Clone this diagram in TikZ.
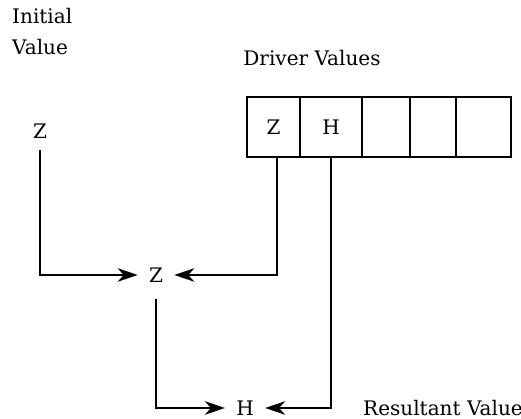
\documentclass[tikz,border=0pt]{standalone}
\usepackage{fontspec}
\setmainfont{DejaVu Serif}
\usetikzlibrary{arrows.meta,positioning}

\begin{document}
\begin{tikzpicture}[font=\fontsize{11.4}{13}\selectfont,
  cell/.style = {draw, line width=1.2pt, minimum height=1.2cm, inner sep=0pt, outer sep=0pt},
  value/.style = {inner sep=0.22cm},
  flow/.style = {line width=1.2pt, -{Stealth[length=0.4cm,width=0.27cm,inset=0.12cm]}}]
\useasboundingbox (0,0) rectangle (10.42,8.38);

\node[anchor=west] (init1) at (0.12,8.06) {Initial};
\node[anchor=west] (init2) at (0.12,7.44) {Value};
\node (drv) at (6.24,7.22) {Driver Values};

\node[cell, minimum width=1.06cm, anchor=west] (c1) at (4.94,5.84) {Z};
\node[cell, minimum width=1.24cm, right=0pt of c1] (c2) {H};
\node[cell, minimum width=0.96cm, right=0pt of c2] (c3) {};
\node[cell, minimum width=0.92cm, right=0pt of c3] (c4) {};
\node[cell, minimum width=1.10cm, right=0pt of c4] (c5) {};

\node[value] (zi) at (0.8,5.76) {Z};
\node[value] (zm) at (3.12,2.88) {Z};
\node[value, inner ysep=0.04cm] (hr) at (4.9,0.22) {H};
\node[anchor=west] (res) at (7.14,0.22) {Resultant Value};

\draw[flow] (zi.south) |- (zm.west);
\draw[flow] ([xshift=0.07cm]c1.south) |- (zm.east);
\draw[flow, shorten <=0.1cm] (zm.south) |- (hr.west);
\draw[flow] (c2.south) |- (hr.east);

\end{tikzpicture}
\end{document}
